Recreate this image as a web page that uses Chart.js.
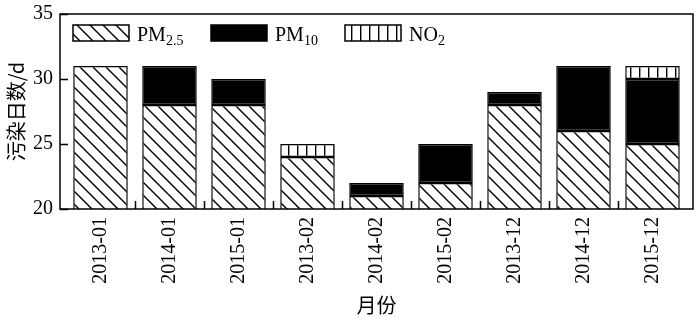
<!DOCTYPE html>
<html>
<head>
<meta charset="utf-8">
<script src="https://cdn.jsdelivr.net/npm/chart.js@4/dist/chart.umd.min.js"></script>
<style>
  body { margin: 0; background: #fff; }
</style>
</head>
<body>
<canvas id="chart" width="700" height="323"></canvas>
<script>
// months on the x axis
const months = ['2013-01', '2014-01', '2015-01', '2013-02', '2014-02', '2015-02', '2013-12', '2014-12', '2015-12'];
// pollution days by primary pollutant (stacked)
const pm25Days = [31, 28, 28, 24, 21, 22, 28, 26, 25];
const pm10Days = [null, 3, 2, null, 1, 3, 1, 5, 5];
const no2Days = [null, null, null, 1, null, null, null, null, 1];
const yTicks = [20, 25, 30, 35];

const serif = 'Liberation Serif';
const cjk = 'Noto Sans CJK SC';
Chart.defaults.font.family = serif;
Chart.defaults.color = '#000';

// hatch patterns
function diagPattern() {
  const s = 13;
  const c = document.createElement('canvas');
  c.width = s; c.height = s;
  const g = c.getContext('2d');
  g.fillStyle = '#fff';
  g.fillRect(0, 0, s, s);
  g.strokeStyle = '#000';
  g.lineWidth = 1.4;
  g.beginPath();
  g.moveTo(-2, -2); g.lineTo(s + 2, s + 2);
  g.moveTo(-2, s - 2); g.lineTo(2, s + 2);
  g.moveTo(s - 2, -2); g.lineTo(s + 2, 2);
  g.stroke();
  return g.createPattern(c, 'repeat');
}
function vertPattern() {
  const s = 9;
  const c = document.createElement('canvas');
  c.width = s; c.height = s;
  const g = c.getContext('2d');
  g.fillStyle = '#fff';
  g.fillRect(0, 0, s, s);
  g.fillStyle = '#000';
  g.fillRect(0, 0, 1.4, s);
  return g.createPattern(c, 'repeat');
}
const diag = diagPattern();
const vert = vertPattern();

// frame, inward ticks and legend with subscripts
const framePlugin = {
  id: 'frame',
  afterDraw(chart) {
    const ctx = chart.ctx;
    const a = chart.chartArea;
    const x = chart.scales.x, y = chart.scales.y;
    const left = a.left - 6, right = a.right + 6;
    ctx.save();
    ctx.strokeStyle = '#000';
    ctx.lineWidth = 1.5;
    ctx.strokeRect(left, a.top, right - left, a.bottom - a.top);
    ctx.beginPath();
    yTicks.forEach(v => {
      const py = Math.round(y.getPixelForValue(v)) + 0.5;
      ctx.moveTo(left, py); ctx.lineTo(left + 8, py);
    });
    for (let i = 1; i < months.length; i++) {
      const px = Math.round((x.getPixelForValue(i - 1) + x.getPixelForValue(i)) / 2) + 0.5;
      ctx.moveTo(px, a.bottom); ctx.lineTo(px, a.bottom - 8);
    }
    ctx.stroke();

    // legend
    const items = [
      { fill: diag, x: 73, main: 'PM', sub: '2.5' },
      { fill: '#000', x: 211, main: 'PM', sub: '10' },
      { fill: vert, x: 345, main: 'NO', sub: '2' }
    ];
    const boxW = 56, boxH = 16, boxY = 25;
    ctx.textBaseline = 'alphabetic';
    items.forEach(it => {
      ctx.fillStyle = it.fill;
      ctx.fillRect(it.x, boxY, boxW, boxH);
      ctx.lineWidth = 1.5;
      ctx.strokeRect(it.x, boxY, boxW, boxH);
      ctx.fillStyle = '#000';
      ctx.font = '20px "' + serif + '"';
      const tx = it.x + boxW + 8;
      ctx.fillText(it.main, tx, 41);
      const w = ctx.measureText(it.main).width;
      ctx.font = '14px "' + serif + '"';
      ctx.fillText(it.sub, tx + w, 45);
    });
    ctx.restore();
  }
};

const ctx = document.getElementById('chart').getContext('2d');
new Chart(ctx, {
  type: 'bar',
  data: {
    labels: months,
    datasets: [
      { label: 'PM2.5', data: pm25Days, backgroundColor: diag },
      { label: 'PM10', data: pm10Days, backgroundColor: '#000' },
      { label: 'NO2', data: no2Days, backgroundColor: vert }
    ].map(d => Object.assign(d, {
      borderColor: '#000',
      borderWidth: 1.5,
      borderSkipped: false,
      categoryPercentage: 1,
      barPercentage: 0.79
    }))
  },
  options: {
    responsive: false,
    animation: false,
    layout: { padding: { top: 14, right: 13, left: 0, bottom: 0 } },
    plugins: {
      legend: { display: false },
      tooltip: { enabled: false }
    },
    scales: {
      x: {
        stacked: true,
        grid: { display: false, drawTicks: false },
        border: { display: false },
        ticks: {
          font: { family: serif, size: 20 },
          minRotation: 90,
          maxRotation: 90,
          autoSkip: false,
          padding: 8
        },
        title: {
          display: true,
          text: '月份',
          font: { family: cjk, size: 20 },
          padding: { top: 0, bottom: 6 }
        },
        afterFit(scale) {
          scale.height = 114;
          scale.paddingLeft = 0;
          scale.paddingRight = 0;
        }
      },
      y: {
        stacked: true,
        min: 20,
        max: 35,
        grid: { display: false, drawTicks: false },
        border: { display: false },
        afterBuildTicks(scale) { scale.ticks = yTicks.map(v => ({ value: v })); },
        ticks: {
          font: { family: serif, size: 20 },
          padding: 13
        },
        title: {
          display: true,
          text: '污染日数/d',
          font: { family: cjk, size: 20 },
          padding: { top: 4, bottom: 0 }
        },
        afterFit(scale) {
          scale.width = 66;
          scale.paddingTop = 0;
          scale.paddingBottom = 0;
        }
      }
    }
  },
  plugins: [framePlugin]
});
</script>
</body>
</html>
